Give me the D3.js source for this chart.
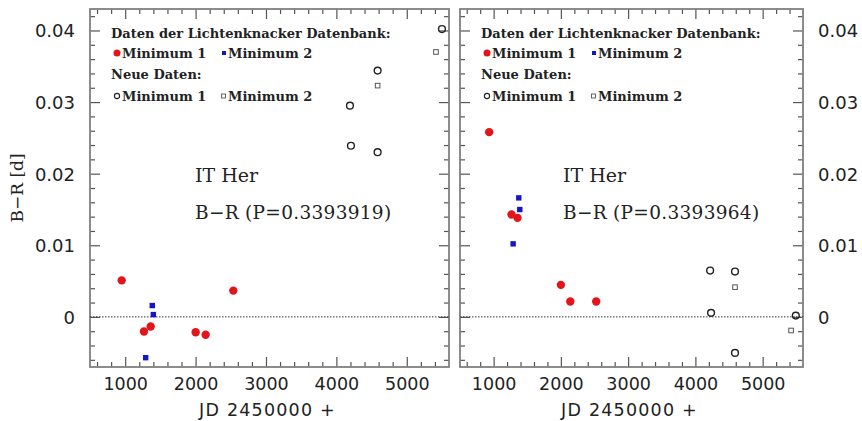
<!DOCTYPE html>
<html><head><meta charset="utf-8">
<script src="https://cdn.jsdelivr.net/npm/d3@7"></script>
<style>body{margin:0;background:#fff}svg{display:block}</style>
</head><body>
<svg id="c" width="862" height="421"></svg>
<script>
// Left panel (P=0.3393919)
const L_db_min1 = [[950,0.0051],[1267,-0.00205],[1362,-0.00135],[2001,-0.00214],[2143,-0.0025],[2536,0.00367]];
const L_db_min2 = [[1385,0.00158],[1400,0.00032],[1291,-0.0057]];
const L_new_min1 = [[4193,0.0295],[4207,0.0239],[4586,0.0344],[4586,0.0230],[5500,0.0402]];
const L_new_min2 = [[4586,0.0323],[5415,0.0370]];
// Right panel (P=0.3393964)
const R_db_min1 = [[934,0.0258],[1266,0.01429],[1355,0.01383],[2000,0.00447],[2140,0.00214],[2525,0.00214]];
const R_db_min2 = [[1374,0.01662],[1389,0.01499],[1290,0.0102]];
const R_new_min1 = [[4219,0.00647],[4233,0.00056],[4589,0.00633],[4589,-0.00503],[5493,0.00018]];
const R_new_min2 = [[4589,0.00415],[5423,-0.0019]];

const xTicks = [1000,2000,3000,4000,5000];
const yTicks = [0,0.01,0.02,0.03,0.04];
const yTickLabels = ["0","0.01","0.02","0.03","0.04"];
const xDomain = [500,5600];
const yDomain = [-0.007,0.043];
const titles = ["IT Her","B\u2212R (P=0.3393919)","B\u2212R (P=0.3393964)"];

const svg = d3.select("#c");
const frameColor = "#808080";
const red = "#e3151b", blue = "#1414c8";

function panel(x0,x1,y0,y1,data,period,labelSide){
  const x = d3.scaleLinear().domain(xDomain).range([x0,x1]);
  const y = d3.scaleLinear().domain(yDomain).range([y1,y0]);
  const g = svg.append("g");
  const minorX = d3.range(600,5600,200).filter(v=>v%1000!==0);
  const minorY = d3.range(-0.006,0.0431,0.002).map(v=>+v.toFixed(3)).filter(v=>Math.abs(v*100-Math.round(v*100))>1e-6);
  const mk = (axis, tr, ticks, size) => {
    const a = g.append("g").attr("transform",tr).call(axis.tickValues(ticks).tickSize(size).tickFormat(""));
    a.select(".domain").remove();
    a.selectAll("line").attr("stroke","#555").attr("stroke-width",1.2);
  };
  mk(d3.axisBottom(x),`translate(0,${y1})`,xTicks,-10);
  mk(d3.axisBottom(x),`translate(0,${y1})`,minorX,-5);
  mk(d3.axisTop(x),`translate(0,${y0})`,xTicks,-10);
  mk(d3.axisTop(x),`translate(0,${y0})`,minorX,-5);
  mk(d3.axisLeft(y),`translate(${x0},0)`,yTicks,-10);
  mk(d3.axisLeft(y),`translate(${x0},0)`,minorY,-5);
  mk(d3.axisRight(y),`translate(${x1},0)`,yTicks,-10);
  mk(d3.axisRight(y),`translate(${x1},0)`,minorY,-5);
  g.append("rect").attr("x",x0).attr("y",y0).attr("width",x1-x0).attr("height",y1-y0)
    .attr("fill","none").attr("stroke",frameColor).attr("stroke-width",1.8);
  g.append("line").attr("x1",x0).attr("x2",x1).attr("y1",y(0)).attr("y2",y(0))
    .attr("stroke","#333").attr("stroke-width",1).attr("stroke-dasharray","1.5,1.5");
  const xl = g.append("g").attr("transform",`translate(0,${y1+20})`).call(d3.axisBottom(x).tickValues(xTicks).tickSize(0).tickFormat(d3.format("d")));
  xl.select(".domain").remove();
  xl.selectAll("text").attr("font-family","DejaVu Sans").attr("font-size",17.5).attr("fill","#222").attr("dy","0");
  const yAxis = labelSide==="left" ? d3.axisLeft(y) : d3.axisRight(y);
  const yl = g.append("g").attr("transform",`translate(${labelSide==="left"?x0-12:x1+12},0)`)
    .call(yAxis.tickValues(yTicks).tickSize(0).tickFormat((d,i)=>yTickLabels[i]));
  yl.select(".domain").remove();
  yl.selectAll("text").attr("font-family","DejaVu Sans").attr("font-size",18).attr("fill","#222").attr("dy","0.36em");
  g.append("text").attr("x",(x0+x1)/2-2).attr("y",416).attr("text-anchor","middle")
    .attr("font-family","DejaVu Sans").attr("font-size",17.5).attr("letter-spacing","1.2").attr("fill","#222").text("JD 2450000 +");
  const [m1,m2,n1,n2] = data;
  g.selectAll(null).data(m1).enter().append("circle").attr("cx",d=>x(d[0])).attr("cy",d=>y(d[1])).attr("r",4.2).attr("fill",red);
  g.selectAll(null).data(m2).enter().append("rect").attr("x",d=>x(d[0])-2.7).attr("y",d=>y(d[1])-2.7).attr("width",5.4).attr("height",5.4).attr("fill",blue);
  g.selectAll(null).data(n1).enter().append("circle").attr("cx",d=>x(d[0])).attr("cy",d=>y(d[1])).attr("r",3.4).attr("fill","none").attr("stroke","#222").attr("stroke-width",1.4);
  g.selectAll(null).data(n2).enter().append("rect").attr("x",d=>x(d[0])-2.3).attr("y",d=>y(d[1])-2.3).attr("width",4.6).attr("height",4.6).attr("fill","none").attr("stroke","#555").attr("stroke-width",1);
  const lx = x0+21;
  const tf = (t,xx,yy)=>g.append("text").attr("x",xx).attr("y",yy).attr("font-family","DejaVu Serif").attr("font-weight","bold")
     .attr("font-size",13).attr("fill","#222").attr("dominant-baseline","central").text(t);
  tf("Daten der Lichtenknacker Datenbank:",lx,33);
  g.append("circle").attr("cx",lx+6).attr("cy",53).attr("r",3.5).attr("fill",red);
  tf("Minimum 1",lx+11,53);
  g.append("rect").attr("x",lx+111).attr("y",51).attr("width",4).attr("height",4).attr("fill",blue);
  tf("Minimum 2",lx+117,53);
  tf("Neue Daten:",lx,74);
  g.append("circle").attr("cx",lx+6).attr("cy",96).attr("r",2.6).attr("fill","none").attr("stroke","#222").attr("stroke-width",1.1);
  tf("Minimum 1",lx+11,96);
  g.append("rect").attr("x",lx+110.5).attr("y",94).attr("width",4).attr("height",4).attr("fill","none").attr("stroke","#555").attr("stroke-width",0.9);
  tf("Minimum 2",lx+117,96);
  const tx = x0 + (labelSide==="left"?105:103);
  g.append("text").attr("x",tx).attr("y",175).attr("font-family","DejaVu Serif").attr("font-size",19).attr("fill","#222").attr("dominant-baseline","central").text(titles[0]);
  g.append("text").attr("x",tx).attr("y",212).attr("font-family","DejaVu Serif").attr("font-size",18.5).attr("letter-spacing","0.3").attr("fill","#222").attr("dominant-baseline","central").text(period);
}

panel(90,449,9,367,[L_db_min1,L_db_min2,L_new_min1,L_new_min2],titles[1],"left");
panel(460,803,9,367,[R_db_min1,R_db_min2,R_new_min1,R_new_min2],titles[2],"right");

svg.append("text").attr("transform","translate(23,188) rotate(-90)").attr("text-anchor","middle")
  .attr("font-family","DejaVu Serif").attr("font-size",17).attr("fill","#222").text("B\u2212R [d]");
</script>
</body></html>
